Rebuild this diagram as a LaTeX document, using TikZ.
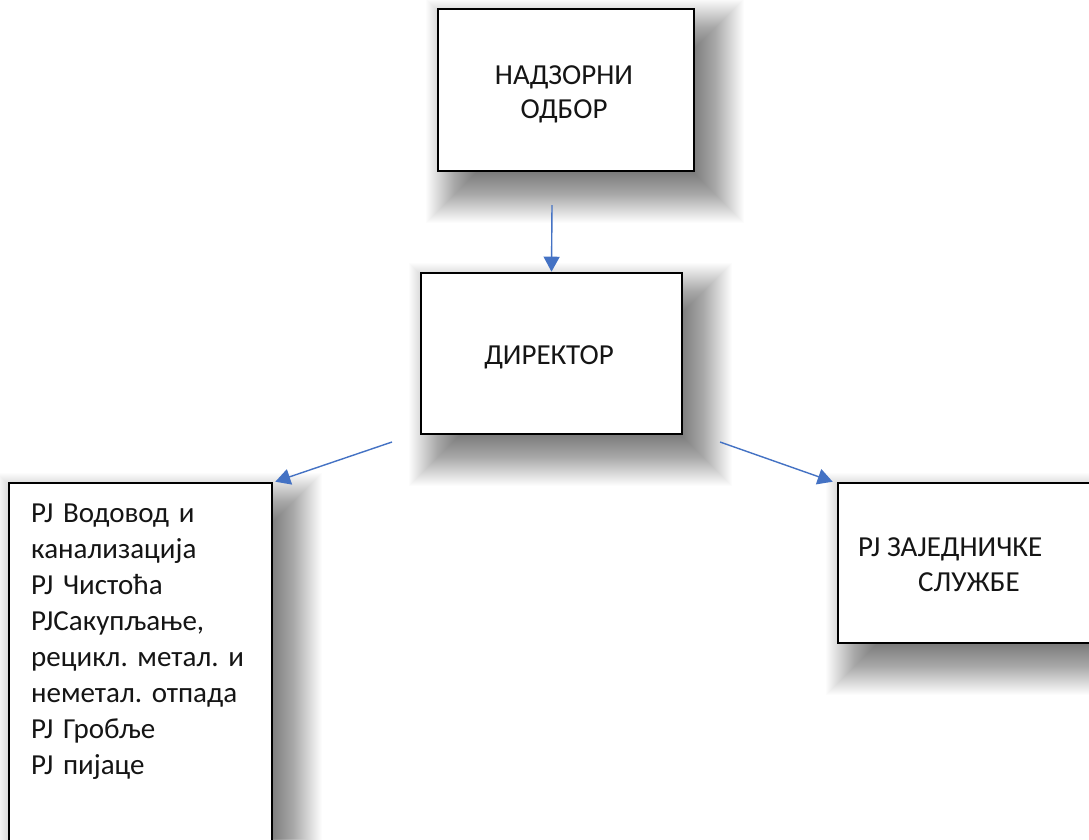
\documentclass[tikz,border=0pt]{standalone}
\usepackage{fontspec}
\setmainfont{Carlito}
\usetikzlibrary{arrows.meta,calc}
\definecolor{arrowblue}{HTML}{4472C4}
\definecolor{txt}{HTML}{151515}
\frenchspacing
\tikzset{
  orgbox/.style={draw=black, line width=2.6pt, fill=white, rectangle, inner sep=0pt},
  shadowlayer/.style={fill=black, fill opacity=0.0125},
  lbl/.style={inner sep=0pt, text=txt, font=\fontsize{29}{36}\selectfont},
  conn/.style={draw=arrowblue, line width=1.4pt, -{Triangle[length=15pt,width=16pt]}}
}
\newcommand\softshadow[1]{%
  \foreach \r in {-30,-29,...,30} {%
    \fill[shadowlayer] ($(#1.north west)+(19-\r,21-\r)$) rectangle ($(#1.south east)+(19+\r,21+\r)$);
  }%
}
\begin{document}
\begin{tikzpicture}[x=1pt,y=-1pt]
\useasboundingbox (0,0) rectangle (1089,839);
\clip (0,0) rectangle (1089,839);
\fill[white] (0,0) rectangle (1089,839);
% invisible placeholders used for the shadows
\path node[orgbox, draw=none, fill=none, minimum width=256pt, minimum height=162pt] (topS) at (566,90) {}
      node[orgbox, draw=none, fill=none, minimum width=261pt, minimum height=161pt] (dirS) at (551.5,353.5) {}
      node[orgbox, draw=none, fill=none, minimum width=263pt, minimum height=420pt] (leftS) at (140.5,693) {}
      node[orgbox, draw=none, fill=none, minimum width=270pt, minimum height=160pt] (rightS) at (973,563) {};
\softshadow{topS}
\softshadow{dirS}
\softshadow{leftS}
\softshadow{rightS}
% boxes
\node[orgbox, minimum width=256pt, minimum height=162pt] (top) at (566,90) {};
\node[orgbox, minimum width=261pt, minimum height=161pt] (dir) at (551.5,353.5) {};
\node[orgbox, minimum width=263pt, minimum height=420pt] (left) at (140.5,693) {};
\node[orgbox, minimum width=270pt, minimum height=160pt] (right) at (973,563) {};
% labels
\node[lbl, font=\fontsize{29}{34}\selectfont, anchor=base, text width=200pt, align=center] (toplbl) at (564,84) {НАДЗОРНИ\\ОДБОР};
\node[lbl, anchor=base] (dirlbl) at (549,364) {ДИРЕКТОР};
\node[lbl, anchor=base west, text width=240pt, align=left] (leftlbl) at (31,522)
  {PJ Водовод и\\канализација\\PJ Чистоћа\\PJСакупљање,\\рецикл. метал. и\\неметал. отпада\\PJ Гробље\\PJ пијаце};
\node[lbl, anchor=base west] (rightlbl1) at (858,556) {PJ ЗАЈЕДНИЧКЕ};
\node[lbl, anchor=base west] (rightlbl2) at (918,591) {СЛУЖБЕ};
% connectors
\coordinate (s1) at (552,205);
\coordinate (s2) at (392,442);
\coordinate (s3) at (720,442);
\draw[conn] (s1) -- (dir.north);
\draw[conn] (s2) -- ([xshift=2pt]left.north east);
\draw[conn] (s3) -- ([xshift=-4pt]right.north west);
\end{tikzpicture}
\end{document}
